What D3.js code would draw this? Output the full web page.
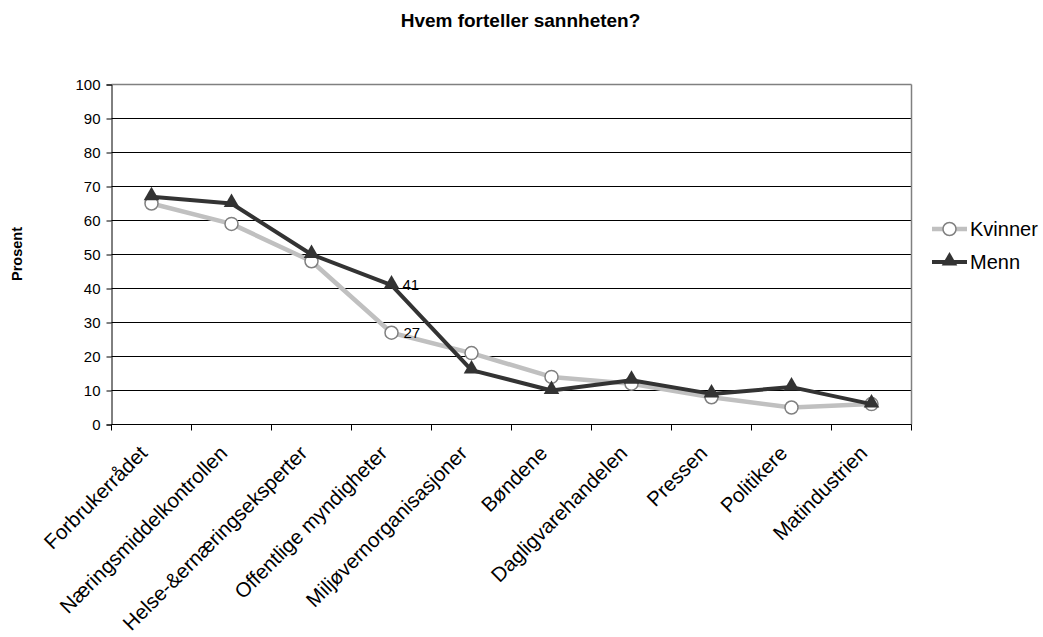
<!DOCTYPE html>
<html>
<head>
<meta charset="utf-8">
<script src="https://cdn.jsdelivr.net/npm/d3@7"></script>
<style>
  html, body { margin: 0; padding: 0; background: #fff; }
  svg { display: block; font-family: "Liberation Sans", Arial, sans-serif; }
</style>
</head>
<body>
<svg id="chart" width="1043" height="637"></svg>
<script>
const categories = ["Forbrukerrådet", "Næringsmiddelkontrollen", "Helse-&ernæringseksperter", "Offentlige myndigheter", "Miljøvernorganisasjoner", "Bøndene", "Dagligvarehandelen", "Pressen", "Politikere", "Matindustrien"];
const kvinner = [65, 59, 48, 27, 21, 14, 12, 8, 5, 6];
const menn = [67, 65, 50, 41, 16, 10, 13, 9, 11, 6];
const yTicks = [0, 10, 20, 30, 40, 50, 60, 70, 80, 90, 100];
const seriesNames = ["Kvinner", "Menn"];
const labelledIndex = 3;
const titleText = "Hvem forteller sannheten?";
const yTitle = "Prosent";

const svg = d3.select("#chart");
const pLeft = 111.5, pRight = 911.5, pTop = 84.5, pBottom = 424.5;

const x = d3.scaleBand().domain(categories).range([pLeft, pRight]).padding(0);
const y = d3.scaleLinear().domain([0, 100]).range([pBottom, pTop]);
const cx = d => x(d) + x.bandwidth() / 2;

// gridlines
svg.append("g").selectAll("line").data(yTicks.filter(t => t > 0 && t < 100)).join("line")
  .attr("x1", pLeft).attr("x2", pRight)
  .attr("y1", d => y(d)).attr("y2", d => y(d))
  .attr("stroke", "#000").attr("stroke-width", 1);
// top and right border
svg.append("line").attr("x1", pLeft).attr("x2", pRight).attr("y1", y(100)).attr("y2", y(100))
  .attr("stroke", "#808080").attr("stroke-width", 1.5);
svg.append("line").attr("x1", pRight).attr("x2", pRight).attr("y1", y(100)).attr("y2", y(0))
  .attr("stroke", "#808080").attr("stroke-width", 1.5);

// y axis
const yAxis = svg.append("g").attr("transform", `translate(${pLeft},0)`)
  .call(d3.axisLeft(y).tickValues(yTicks).tickSize(5).tickPadding(6));
yAxis.select(".domain").attr("stroke", "#000");
yAxis.selectAll("line").attr("stroke", "#000");
yAxis.selectAll("text").attr("font-size", 15).attr("fill", "#000")
  .attr("font-family", "Liberation Sans, Arial, sans-serif");

// x axis
const xg = svg.append("g").attr("transform", `translate(0,${pBottom})`);
xg.append("line").attr("x1", pLeft).attr("x2", pRight).attr("stroke", "#000");
const bounds = categories.map(c => x(c)).concat([pRight]);
xg.selectAll("line.tick").data(bounds).join("line").attr("class", "tick")
  .attr("x1", d => d).attr("x2", d => d).attr("y1", 0).attr("y2", 6).attr("stroke", "#000");
svg.append("g").selectAll("text").data(categories).join("text")
  .attr("transform", d => `translate(${cx(d) - 3},${pBottom + 30}) rotate(-45)`)
  .attr("text-anchor", "end")
  .attr("font-size", 20.5)
  .attr("fill", "#000")
  .text(d => d);

// lines
const line = d3.line().x(d => cx(d.c)).y(d => y(d.v));
const kData = categories.map((c, i) => ({ c, v: kvinner[i] }));
const mData = categories.map((c, i) => ({ c, v: menn[i] }));

svg.append("path").datum(kData).attr("d", line)
  .attr("fill", "none").attr("stroke", "#c0c0c0").attr("stroke-width", 4.5).attr("stroke-linejoin", "round");
svg.append("g").selectAll("circle").data(kData).join("circle")
  .attr("cx", d => cx(d.c)).attr("cy", d => y(d.v)).attr("r", 6.5)
  .attr("fill", "#fff").attr("stroke", "#808080").attr("stroke-width", 1.5);

svg.append("path").datum(mData).attr("d", line)
  .attr("fill", "none").attr("stroke", "#333333").attr("stroke-width", 4).attr("stroke-linejoin", "round");
const tri = d3.symbol().type(d3.symbolTriangle).size(105);
svg.append("g").selectAll("path").data(mData).join("path")
  .attr("d", tri)
  .attr("transform", d => `translate(${cx(d.c)},${y(d.v) - 1})`)
  .attr("fill", "#333333");

// data labels
svg.append("text").attr("x", cx(categories[labelledIndex]) + 11).attr("y", y(menn[labelledIndex]))
  .attr("dy", "0.35em").attr("font-size", 15).text(menn[labelledIndex]);
svg.append("text").attr("x", cx(categories[labelledIndex]) + 12).attr("y", y(kvinner[labelledIndex]))
  .attr("dy", "0.35em").attr("font-size", 15).text(kvinner[labelledIndex]);

// title
svg.append("text").attr("x", 520.5).attr("y", 27).attr("text-anchor", "middle")
  .attr("font-size", 19).attr("font-weight", "bold").text(titleText);
svg.append("text").attr("transform", "translate(22,254) rotate(-90)").attr("text-anchor", "middle")
  .attr("font-size", 14.5).attr("font-weight", "bold").text(yTitle);

// legend
const lg = svg.append("g");
const ly = [229, 262];
lg.append("line").attr("x1", 932).attr("x2", 967).attr("y1", ly[0]).attr("y2", ly[0])
  .attr("stroke", "#c0c0c0").attr("stroke-width", 4.5);
lg.append("circle").attr("cx", 949.5).attr("cy", ly[0]).attr("r", 6.5)
  .attr("fill", "#fff").attr("stroke", "#808080").attr("stroke-width", 1.5);
lg.append("line").attr("x1", 932).attr("x2", 967).attr("y1", ly[1]).attr("y2", ly[1])
  .attr("stroke", "#333333").attr("stroke-width", 4);
lg.append("path").attr("d", tri).attr("transform", `translate(949.5,${ly[1] - 1})`).attr("fill", "#333333");
lg.selectAll("text").data(seriesNames).join("text")
  .attr("x", 970).attr("y", (d, i) => ly[i]).attr("dy", "0.36em")
  .attr("font-size", 20).text(d => d);
</script>
</body>
</html>
